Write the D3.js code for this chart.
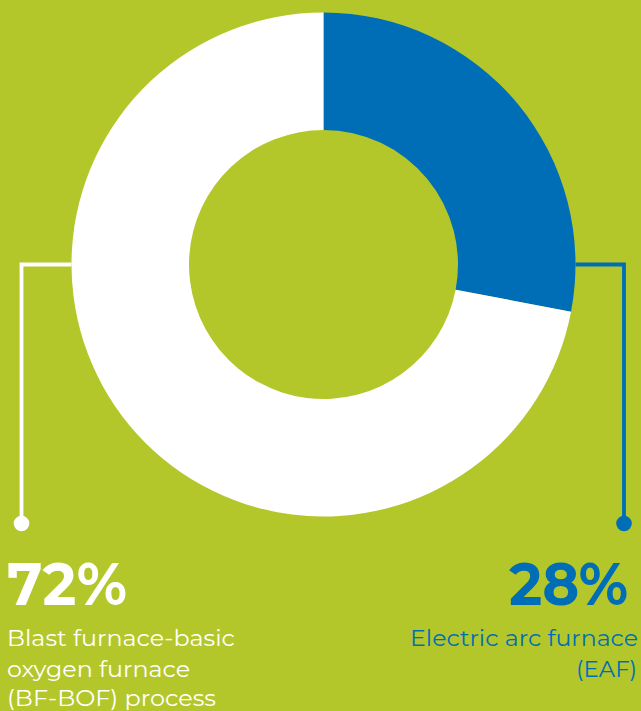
<!DOCTYPE html>
<html>
<head>
<meta charset="utf-8">
<script src="https://cdn.jsdelivr.net/npm/d3@7"></script>
<style>
  html, body { margin: 0; padding: 0; background: #b4c72a; }
  svg { display: block; }
</style>
</head>
<body>
<div class="chart"></div>
<script>
var svgWidth = 641;
var svgHeight = 711;

// data
var categories = ["Electric arc furnace (EAF)", "Blast furnace-basic oxygen furnace (BF-BOF) process"];
var shares = [28, 72];
var percentLabels = ["28%", "72%"];
var labelLines = [
  ["Electric arc furnace", "(EAF)"],
  ["Blast furnace-basic", "oxygen furnace", "(BF-BOF) process"]
];

var green = "#b4c72a";
var blue = "#006eb7";
var white = "#ffffff";
var colors = [blue, white];

var cx = 323.5;
var cy = 264.5;
var outerR = 252;
var innerR = 134.5;

var svg = d3
  .select(".chart")
  .append("svg")
  .attr("width", svgWidth)
  .attr("height", svgHeight);

svg.append("rect")
  .attr("width", svgWidth)
  .attr("height", svgHeight)
  .attr("fill", green);

var pieData = d3.pie()
  .sort(null)
  .value(d => d)(shares);

var arc = d3.arc()
  .innerRadius(innerR)
  .outerRadius(outerR);

var donut = svg.append("g")
  .attr("transform", `translate(${cx}, ${cy})`);

donut.selectAll("path")
  .data(pieData)
  .enter()
  .append("path")
  .attr("d", arc)
  .attr("fill", (d, i) => colors[i]);

// leader lines: right side for EAF, left side for BF-BOF
var sides = [
  { x: 624, edge: cx + outerR, anchor: "end" },
  { x: 21.5, edge: cx - outerR, anchor: "start" }
];
var dotY = 523.5;

var leaders = svg.append("g");
sides.forEach(function(s, i) {
  leaders.append("path")
    .attr("d", `M${s.edge},${cy}H${s.x}V${dotY}`)
    .attr("fill", "none")
    .attr("stroke", colors[i])
    .attr("stroke-width", 3.8);
  leaders.append("circle")
    .attr("cx", s.x)
    .attr("cy", dotY)
    .attr("r", 7.8)
    .attr("fill", colors[i]);
});

// percent and labels
var pctBox = [
  { x: 628, w: 119 },
  { x: 7, w: 120 }
];
var lineBoxes = [
  [{ x: 638, w: 228 }, { x: 637, w: 61 }],
  [{ x: 7, w: 228 }, { x: 7, w: 183 }, { x: 7, w: 209 }]
];
var lineBase = [646, 676.5, 706];

var labels = svg.append("g")
  .style("font-family", "Montserrat, Lato, 'Open Sans', sans-serif");

categories.forEach(function(c, i) {
  labels.append("text")
    .attr("x", pctBox[i].x)
    .attr("y", 605)
    .attr("text-anchor", sides[i].anchor)
    .attr("textLength", pctBox[i].w)
    .attr("lengthAdjust", "spacingAndGlyphs")
    .attr("fill", colors[i])
    .style("font-size", "60px")
    .style("font-weight", 700)
    .text(percentLabels[i]);

  labelLines[i].forEach(function(line, j) {
    labels.append("text")
      .attr("x", lineBoxes[i][j].x)
      .attr("y", lineBase[j])
      .attr("text-anchor", sides[i].anchor)
      .attr("textLength", lineBoxes[i][j].w)
      .attr("lengthAdjust", "spacingAndGlyphs")
      .attr("fill", colors[i])
      .style("font-size", "22px")
      .style("font-weight", 400)
      .text(line);
  });
});
</script>
</body>
</html>
